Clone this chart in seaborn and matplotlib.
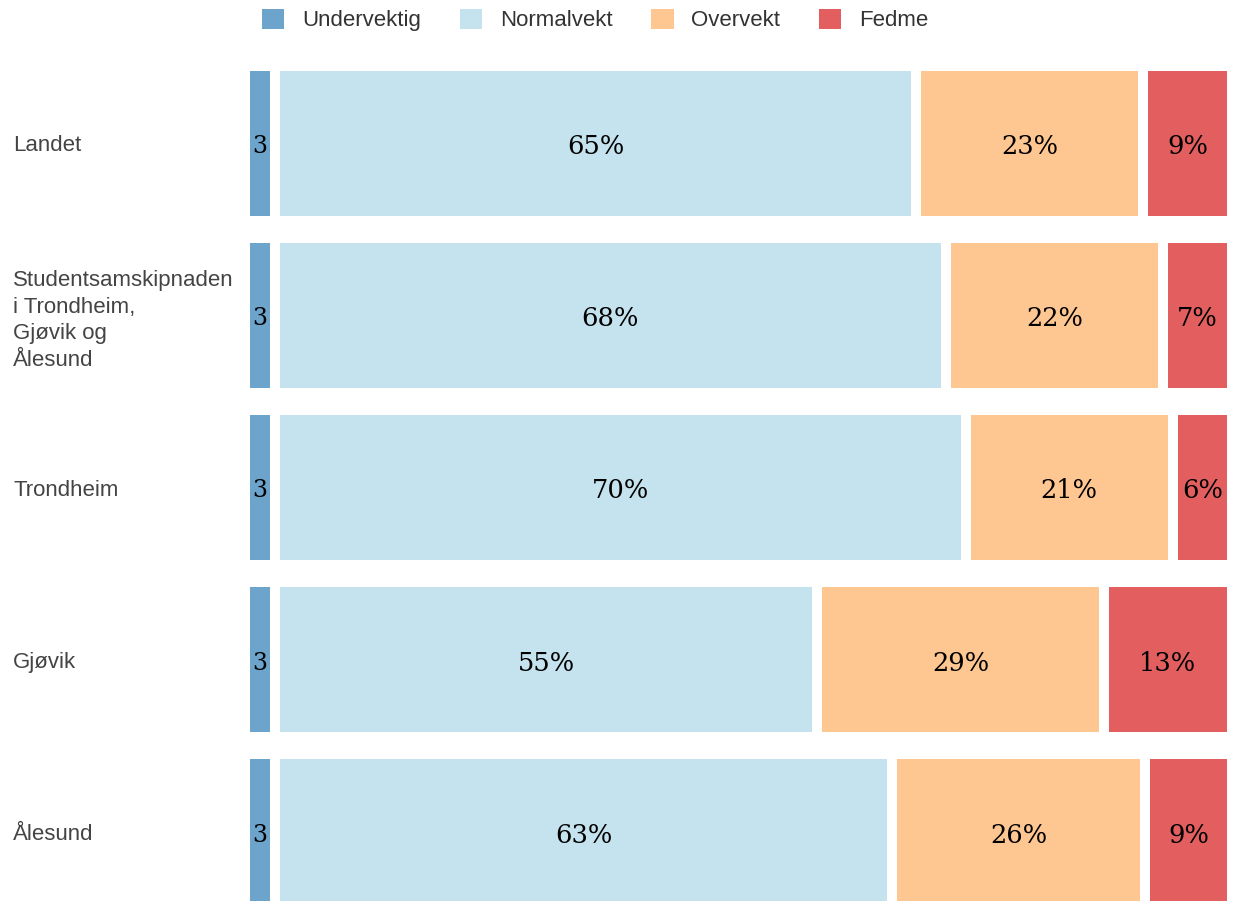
import numpy as np
import pandas as pd
import seaborn as sns
import matplotlib
matplotlib.use("Agg")
import matplotlib.pyplot as plt
from matplotlib.patches import Patch

# Share of each weight class per region (percent)
regions = [
    "Landet",
    "Studentsamskipnaden\ni Trondheim,\nGjøvik og\nÅlesund",
    "Trondheim",
    "Gjøvik",
    "Ålesund",
]
categories = ["Undervektig", "Normalvekt", "Overvekt", "Fedme"]
undervektig = [3.0, 3.0, 3.0, 3.0, 3.0]
normalvekt = [65.0, 68.0, 70.0, 55.0, 62.6]
overvekt = [23.0, 22.0, 21.0, 29.0, 25.6]
fedme = [9.0, 7.0, 6.0, 13.0, 8.8]
colors = ["#6ca4cc", "#c5e3ee", "#fec691", "#e35f5f"]

sns.set_theme(style="white")
plt.rcParams["font.family"] = ["Liberation Sans", "DejaVu Sans"]

W, H, DPI = 1234, 901, 100
fig = plt.figure(figsize=(W / DPI, H / DPI), dpi=DPI)
ax = fig.add_axes([245 / W, -17 / H, 987 / W, 861 / H])

values = np.array([undervektig, normalvekt, overvekt, fedme])
cum = np.cumsum(values, axis=0)
df = pd.DataFrame({"region": regions})

# Stacked bars: draw cumulative totals from widest to narrowest
for i in range(len(categories) - 1, -1, -1):
    df["x"] = cum[i]
    sns.barplot(data=df, x="x", y="region", order=regions, color=colors[i],
                width=0.9, edgecolor="white", linewidth=7.2, saturation=1,
                errorbar=None, ax=ax)

# Value labels centred in each segment
starts = cum - values
for i in range(len(categories)):
    for j in range(len(regions)):
        v = values[i, j]
        txt = f"{v:.0f}" if i == 0 else f"{v:.0f}%"
        ax.annotate(txt, (starts[i, j] + v / 2, j), xytext=(0, -2.5),
                    textcoords="offset points", ha="center", va="center",
                    fontsize=18.5 if i else 17, family="DejaVu Serif",
                    color="black")

ax.set_xlim(0, 100)
ax.set_ylim(4.5, -0.5)
ax.set_xlabel("")
ax.set_ylabel("")
ax.set_xticks([])
ax.tick_params(axis="y", length=0, pad=167)
for lbl in ax.get_yticklabels():
    lbl.set_horizontalalignment("left")
    lbl.set_fontsize(16)
    lbl.set_color("#444444")
    lbl.set_linespacing(1.34)
sns.despine(ax=ax, left=True, bottom=True)

handles = [Patch(facecolor=c, edgecolor="none") for c in colors]
fig.legend(handles, categories, loc="center left",
           bbox_to_anchor=(251 / W, 1 - 20 / H), ncol=4, frameon=False,
           fontsize=16, handlelength=1.0, handleheight=1.0,
           handletextpad=0.8, columnspacing=1.75, borderpad=0,
           labelcolor="#333333")

fig.savefig("out.png", dpi=DPI)
